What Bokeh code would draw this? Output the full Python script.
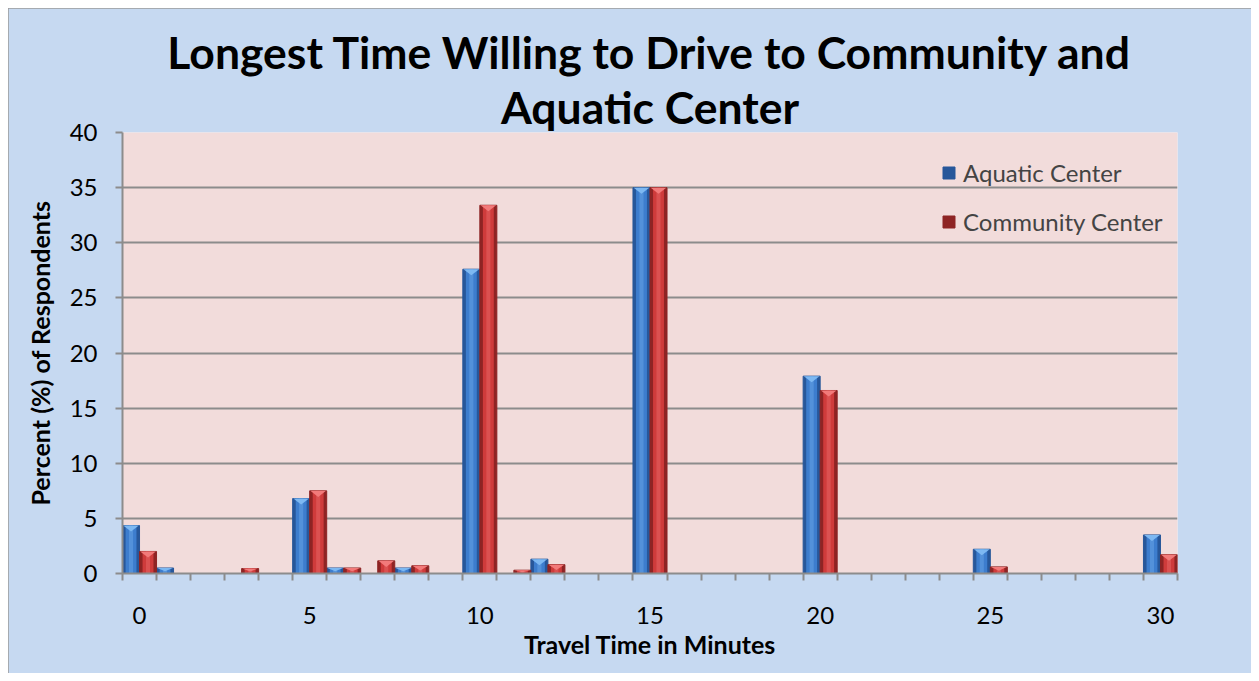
import numpy as np
from bokeh.plotting import figure
from bokeh.models import FixedTicker, ColumnDataSource, Legend, LegendItem, Title
from bokeh.embed import file_html
from bokeh.resources import INLINE

# ---- data ----
minutes = list(range(31))
aquatic = [4.35, 0.5, 0, 0, 0, 6.8, 0.5, 0, 0.5, 0, 27.6, 0, 1.3, 0, 0, 35.0,
           0, 0, 0, 0, 17.9, 0, 0, 0, 0, 2.2, 0, 0, 0, 0, 3.5]
community = [2.0, 0, 0, 0.45, 0, 7.5, 0.5, 1.15, 0.7, 0, 33.4, 0.3, 0.8, 0, 0, 35.0,
             0, 0, 0, 0, 16.6, 0, 0, 0, 0, 0.6, 0, 0, 0, 0, 1.7]
x_tick_labels = [0, 5, 10, 15, 20, 25, 30]
y_ticks = [0, 5, 10, 15, 20, 25, 30, 35, 40]
title_lines = ["Longest Time Willing to Drive to Community and", "Aquatic Center"]

FONT = "Lato"
BG = "#C6D9F1"
PLOT_BG = "#F2DCDB"
GRID = "#8C8C8C"

p = figure(width=1243, height=665, output_backend="svg", toolbar_location=None,
           x_range=(-0.5, 30.5), y_range=(0, 40),
           title=title_lines[0],
           min_border_left=114, min_border_right=74, min_border_top=124,
           min_border_bottom=100,
           styles={"margin": "8px 0 0 8px", "outline": "3px solid #9a9a9a",
                   "outline-offset": "-3px"})
p.background_fill_color = PLOT_BG
p.border_fill_color = BG
p.outline_line_color = None

t2 = Title(text=title_lines[1])
p.add_layout(t2, "above")
for t in (p.title, t2):
    t.text_font = FONT
    t.text_font_size = "44.5px"
    t.text_font_style = "bold"
    t.align = "center"
    t.text_color = "black"
    t.standoff = 0
    t.offset = 0


def draw(vals, off, dark, mid, light):
    xs = np.array([m for m, v in zip(minutes, vals) if v > 0], dtype=float) + off
    ys = np.array([v for v in vals if v > 0], dtype=float)
    src = ColumnDataSource(dict(x=xs, top=ys))
    r = p.vbar(x="x", top="top", width=0.5, source=src, fill_color=dark,
               line_color=dark, line_width=1)
    p.vbar(x="x", top="top", width=0.32, source=src, fill_color=mid,
           line_color=None)
    p.vbar(x="x", top="top", width=0.12, source=src, fill_color=light,
           fill_alpha=0.35, line_color=None)
    h = np.minimum(0.55, ys * 0.6)
    px = [[x - 0.23, x + 0.23, x] for x in xs]
    py = [[t, t, t - hh] for t, hh in zip(ys, h)]
    p.patches(px, py, fill_color=light, line_color=None)
    return r


ra = draw(aquatic, -0.25, "#27579A", "#3D7DCE", "#7DB8F2")
rc = draw(community, 0.25, "#8E2424", "#CF3B3B", "#F27A7A")

legend = Legend(items=[LegendItem(label="Aquatic Center", renderers=[ra]),
                       LegendItem(label="Community Center", renderers=[rc])],
                location=(819, 337))
legend.background_fill_alpha = 0
legend.border_line_color = None
legend.label_text_font = FONT
legend.label_text_font_size = "24px"
legend.glyph_width = 15
legend.glyph_height = 15
legend.label_height = 30
legend.spacing = 19
legend.margin = 0
legend.padding = 0
legend.label_standoff = 7
p.add_layout(legend, "center")

# axes
xt = FixedTicker(ticks=x_tick_labels,
                 minor_ticks=[m - 0.5 for m in minutes] + [30.5])
p.xaxis.ticker = xt
p.xaxis.major_tick_line_color = None
p.xaxis.minor_tick_line_color = GRID
p.xaxis.minor_tick_line_width = 2
p.xaxis.minor_tick_out = 7
p.xaxis.minor_tick_in = 0
p.xaxis.axis_line_color = GRID
p.xaxis.axis_line_width = 2
p.xaxis.major_label_standoff = 26
p.xaxis.axis_label = "Travel Time in Minutes"
p.xaxis.axis_label_standoff = 2

p.yaxis.ticker = FixedTicker(ticks=y_ticks)
p.yaxis.minor_tick_line_color = None
p.yaxis.major_tick_line_color = GRID
p.yaxis.major_tick_line_width = 2
p.yaxis.major_tick_out = 7
p.yaxis.major_tick_in = 0
p.yaxis.axis_line_color = GRID
p.yaxis.axis_line_width = 2
p.yaxis.major_label_standoff = 18
p.yaxis.axis_label = "Percent (%) of Respondents"
p.yaxis.axis_label_standoff = 12

for ax in (p.xaxis, p.yaxis):
    ax.major_label_text_font = FONT
    ax.major_label_text_font_size = "24px"
    ax.major_label_text_color = "black"
    ax.axis_label_text_font = FONT
    ax.axis_label_text_font_size = "25px"
    ax.axis_label_text_font_style = "bold"
    ax.axis_label_text_color = "black"

p.xgrid.grid_line_color = None
p.ygrid.ticker = FixedTicker(ticks=y_ticks)
p.ygrid.grid_line_color = GRID
p.ygrid.grid_line_width = 2

open("out.html", "w").write(file_html(p, INLINE))
